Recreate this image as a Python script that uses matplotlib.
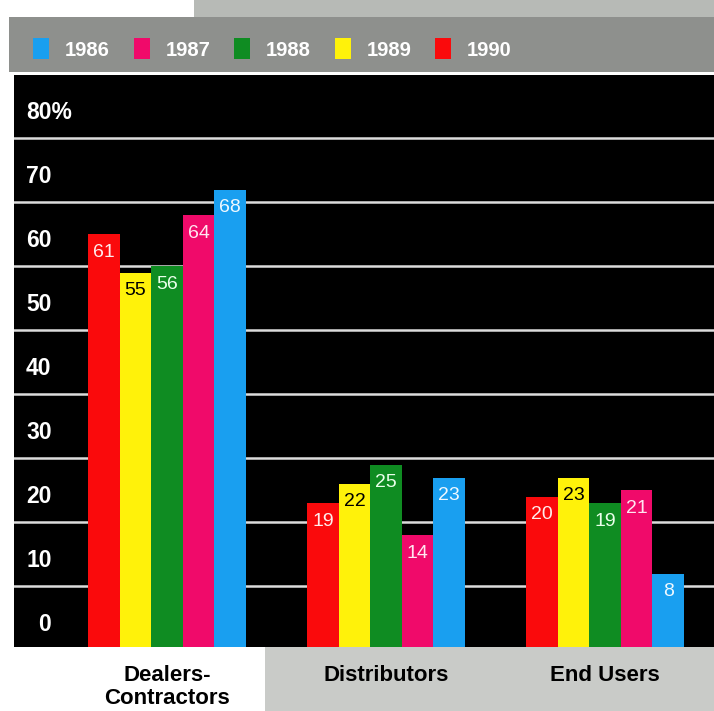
"""
Gráfico de barras agrupadas: participación por canal de venta, 1986-1990.
"""

import matplotlib.pyplot as plt
from matplotlib.patches import Rectangle
from matplotlib.transforms import blended_transform_factory

# =============================================================================
# 1. DATOS
# =============================================================================

categorias = ['Dealers-\nContractors', 'Distributors', 'End Users']

# Orden de las barras dentro de cada grupo (izquierda -> derecha)
anios_barras = ['1990', '1989', '1988', '1987', '1986']
valores = {
    '1990': [61, 19, 20],
    '1989': [55, 22, 23],
    '1988': [56, 25, 19],
    '1987': [64, 14, 21],
    '1986': [68, 23, 8],
}

# Orden de la leyenda
anios_leyenda = ['1986', '1987', '1988', '1989', '1990']

ticks_y = [0, 10, 20, 30, 40, 50, 60, 70, 80]
etiquetas_y = ['0', '10', '20', '30', '40', '50', '60', '70', '80%']

# =============================================================================
# 2. ESTILO
# =============================================================================

colores = {
    '1990': '#fa0a0c',
    '1989': '#fff20a',
    '1988': '#0f8c22',
    '1987': '#f00a6a',
    '1986': '#199ff0',
}
color_texto = {
    '1990': '#ffecec',
    '1989': '#000000',
    '1988': '#eaffea',
    '1987': '#ffe6f0',
    '1986': '#eef8ff',
}

plt.rcParams['font.family'] = ['Liberation Sans', 'DejaVu Sans']

W, H = 714, 711
fig = plt.figure(figsize=(W / 100, H / 100), dpi=100)
fig.patch.set_facecolor('white')


def caja_px(x0, y0, x1, y1, color):
    """Rectángulo de fondo en coordenadas de píxel (origen arriba a la izquierda)."""
    fig.patches.append(Rectangle(
        (x0 / W, 1 - y1 / H), (x1 - x0) / W, (y1 - y0) / H,
        transform=fig.transFigure, facecolor=color, edgecolor='none', zorder=-1,
    ))


# Fondos grises del recorte original
caja_px(194, 0, W, 17, '#b7bab6')
caja_px(9, 17, W, 72, '#8e908d')
caja_px(265, 647, W, H, '#c9cbc8')

# =============================================================================
# 3. EJES Y BARRAS
# =============================================================================

ax = fig.add_axes([14 / W, (H - 647) / H, 700 / W, 572 / H])
ax.set_facecolor('black')
y_min, y_max = -3.45, 85.9
ax.set_ylim(y_min, y_max)
ax.set_xlim(-0.699, 2.497)

# Líneas guía entre etiquetas
for v in ticks_y[1:]:
    ax.axhline(v - 3.9, color='#dcdcdc', linewidth=1.8, zorder=1)

ancho = 0.144
for i, anio in enumerate(anios_barras):
    desplaz = (i - 2) * ancho
    xs = [k + desplaz for k in range(len(categorias))]
    alturas = [v - y_min for v in valores[anio]]
    ax.bar(xs, alturas, width=ancho, bottom=y_min, color=colores[anio],
           edgecolor='none', zorder=2)
    for x, v in zip(xs, valores[anio]):
        ax.text(x, v - 2.8, str(v), ha='center', va='center', fontsize=14,
                color=color_texto[anio], zorder=3)

ax.set_xticks([])
ax.set_yticks([])
for s in ax.spines.values():
    s.set_visible(False)

# Etiquetas del eje Y dentro del área negra
trans_y = blended_transform_factory(fig.transFigure, ax.transData)
for v, etiqueta in zip(ticks_y, etiquetas_y):
    x_px = 38 if v == 0 else 26
    ax.text(x_px / W, v, etiqueta, transform=trans_y, ha='left', va='center',
            fontsize=16.5, fontweight='bold', color='white', zorder=3)

# Etiquetas de categoría
trans_x = blended_transform_factory(ax.transData, fig.transFigure)
for k, cat in enumerate(categorias):
    ax.text(k, 1 - 665 / H, cat, transform=trans_x, ha='center', va='top',
            fontsize=16, fontweight='bold', color='black', linespacing=1.1,
            clip_on=False)

# =============================================================================
# 4. LEYENDA
# =============================================================================

for j, anio in enumerate(anios_leyenda):
    x0 = 33 + j * 100.5
    caja_px(x0, 38, x0 + 16, 59, colores[anio])
    fig.text((x0 + 32) / W, 1 - 50 / H, anio, ha='left', va='center',
             fontsize=14.5, fontweight='bold', color='white')

fig.savefig('out.png', dpi=100, facecolor=fig.get_facecolor())
plt.close(fig)
